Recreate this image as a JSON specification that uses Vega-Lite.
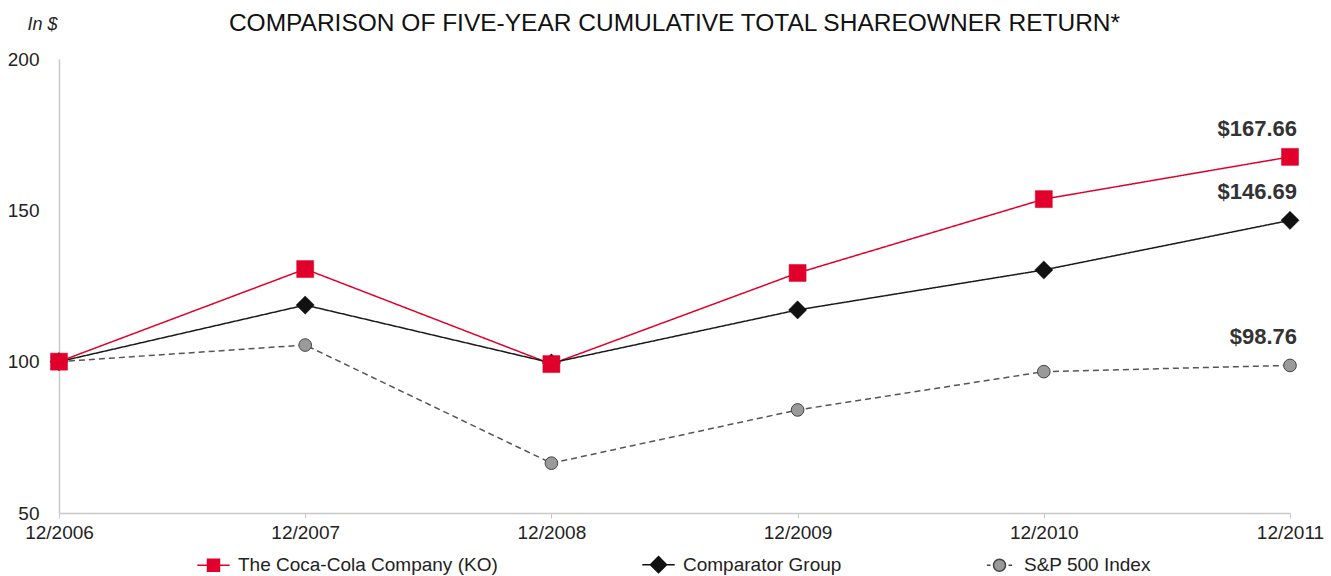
{
  "$schema": "https://vega.github.io/schema/vega-lite/v6.json",
  "width": 1231,
  "height": 454,
  "autosize": {"type": "none"},
  "padding": {"left": 59, "top": 59, "right": 41, "bottom": 63},
  "background": "white",
  "config": {
    "font": "Liberation Sans",
    "view": {"stroke": null},
    "axis": {"labelFont": "Liberation Sans", "labelColor": "#222", "grid": false, "domainColor": "#c8c8c8", "tickColor": "#c8c8c8"}
  },
  "title": {
    "text": "COMPARISON OF FIVE-YEAR CUMULATIVE TOTAL SHAREOWNER RETURN*",
    "fontSize": 24.5,
    "fontWeight": "normal",
    "color": "#111111",
    "font": "Liberation Sans",
    "anchor": "middle",
    "frame": "group",
    "offset": 0,
    "dy": 21
  },
  "data": {
    "values": [
      {"year": "12/2006", "series": "The Coca-Cola Company (KO)", "value": 100},
      {"year": "12/2007", "series": "The Coca-Cola Company (KO)", "value": 130.6},
      {"year": "12/2008", "series": "The Coca-Cola Company (KO)", "value": 99.2},
      {"year": "12/2009", "series": "The Coca-Cola Company (KO)", "value": 129.3},
      {"year": "12/2010", "series": "The Coca-Cola Company (KO)", "value": 153.7},
      {"year": "12/2011", "series": "The Coca-Cola Company (KO)", "value": 167.66},
      {"year": "12/2006", "series": "Comparator Group", "value": 100},
      {"year": "12/2007", "series": "Comparator Group", "value": 118.7},
      {"year": "12/2008", "series": "Comparator Group", "value": 99.6},
      {"year": "12/2009", "series": "Comparator Group", "value": 117.1},
      {"year": "12/2010", "series": "Comparator Group", "value": 130.3},
      {"year": "12/2011", "series": "Comparator Group", "value": 146.69},
      {"year": "12/2006", "series": "S&P 500 Index", "value": 100},
      {"year": "12/2007", "series": "S&P 500 Index", "value": 105.49},
      {"year": "12/2008", "series": "S&P 500 Index", "value": 66.46},
      {"year": "12/2009", "series": "S&P 500 Index", "value": 84.05},
      {"year": "12/2010", "series": "S&P 500 Index", "value": 96.71},
      {"year": "12/2011", "series": "S&P 500 Index", "value": 98.76}
    ]
  },
  "encoding": {
    "x": {
      "field": "year", "type": "ordinal",
      "scale": {"type": "point", "padding": 0},
      "axis": {"title": null, "labelAngle": 0, "labelFontSize": 19, "tickSize": 5, "labelPadding": 5, "domainWidth": 1.5}
    },
    "y": {
      "field": "value", "type": "quantitative",
      "scale": {"domain": [50, 200], "nice": false, "zero": false},
      "axis": {
        "values": [50, 100, 150, 200], "ticks": false, "labelPadding": 20, "labelFontSize": 19, "domainWidth": 1.5,
        "title": "In $", "titleAngle": 0, "titleFontStyle": "italic", "titleFontWeight": "normal", "titleFontSize": 18,
        "titleColor": "#222", "titleAlign": "right", "titleBaseline": "middle", "titleX": -2, "titleY": -35
      }
    }
  },
  "layer": [
    {
      "mark": {"type": "line", "strokeWidth": 1.5},
      "encoding": {
        "color": {"field": "series", "type": "nominal", "legend": null,
          "scale": {"domain": ["The Coca-Cola Company (KO)", "Comparator Group", "S&P 500 Index"], "range": ["#e0002b", "#1a1a1a", "#555555"]}},
        "strokeDash": {"field": "series", "type": "nominal", "legend": null,
          "scale": {"domain": ["The Coca-Cola Company (KO)", "Comparator Group", "S&P 500 Index"], "range": [[1, 0], [1, 0], [6, 4]]}}
      }
    },
    {
      "transform": [{"filter": "datum.series == 'S&P 500 Index'"}],
      "mark": {"type": "point", "shape": "circle", "size": 160, "filled": true, "fill": "#9a9a9a", "stroke": "#444444", "strokeWidth": 1, "opacity": 1},
      "encoding": {}
    },
    {
      "transform": [{"filter": "datum.series == 'Comparator Group'"}],
      "mark": {"type": "point", "shape": "diamond", "size": 330, "filled": true, "fill": "#111111", "stroke": "#111111", "strokeWidth": 0.5, "opacity": 1},
      "encoding": {}
    },
    {
      "transform": [{"filter": "datum.series == 'The Coca-Cola Company (KO)'"}],
      "mark": {"type": "point", "shape": "square", "size": 290, "filled": true, "fill": "#e0002b", "stroke": "#e0002b", "strokeWidth": 0.5, "opacity": 1},
      "encoding": {}
    },
    {
      "transform": [{"filter": "datum.year == '12/2011'"}],
      "mark": {"type": "text", "align": "right", "baseline": "middle", "dx": 7, "dy": -28, "fontSize": 22, "fontWeight": "bold", "color": "#333333"},
      "encoding": {
        "text": {"field": "value", "type": "quantitative", "format": "$.2f"}
      }
    },
    {
      "transform": [{"filter": "datum.year == 'none'"}],
      "mark": {"type": "point", "filled": true, "strokeWidth": 1.5, "opacity": 1},
      "encoding": {
        "shape": {"field": "series", "type": "nominal",
          "scale": {"domain": ["The Coca-Cola Company (KO)", "Comparator Group", "S&P 500 Index"],
            "range": ["M-2.7,0H-1M1,0H2.7M-1,-1H1V1H-1Z", "M-2.7,0H-1.35M1.35,0H2.7M0,-1.35L1.35,0L0,1.35L-1.35,0Z", "M-2.1,0H-1.5M1.5,0H2.1M-1,0A1,1 0 1,1 1,0A1,1 0 1,1 -1,0Z"]},
          "legend": {"title": null, "orient": "none", "direction": "horizontal", "legendX": 145, "legendY": 496, "padding": 0,
            "symbolSize": 144, "symbolStrokeWidth": 1.5, "labelFontSize": 19, "labelColor": "#222", "labelFont": "Liberation Sans",
            "labelOffset": 15, "columnPadding": 141, "labelLimit": 400}},
        "fill": {"field": "series", "type": "nominal",
          "scale": {"domain": ["The Coca-Cola Company (KO)", "Comparator Group", "S&P 500 Index"], "range": ["#e0002b", "#111111", "#9a9a9a"]}},
        "stroke": {"field": "series", "type": "nominal",
          "scale": {"domain": ["The Coca-Cola Company (KO)", "Comparator Group", "S&P 500 Index"], "range": ["#e0002b", "#111111", "#444444"]}}
      }
    }
  ],
  "resolve": {"scale": {"shape": "independent", "fill": "independent", "stroke": "independent"}, "legend": {"shape": "independent", "fill": "independent", "stroke": "independent"}}
}
